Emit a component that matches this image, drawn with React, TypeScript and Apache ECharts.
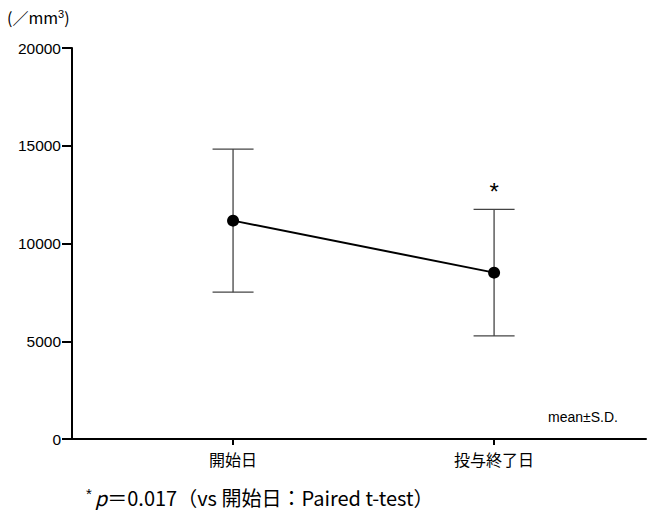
import React, { useEffect, useRef } from "react";
import * as echarts from "echarts";

const categories = ["開始日", "投与終了日"];
const means = [11170, 8510];
const sds = [3660, 3240];
const marks = ["", "*"];
const yTicks = [0, 5000, 10000, 15000, 20000];

export default function App() {
  const ref = useRef<HTMLDivElement>(null);
  useEffect(() => {
    if (!ref.current) return;
    const chart = echarts.init(ref.current, null, { renderer: "svg" });
    const lineData = means.map((m, i) => [i, m]);
    const errData = means.map((m, i) => [i, m - sds[i], m + sds[i]]);
    const font = "'Liberation Sans', Arial, sans-serif";
    const cjk = "'Noto Sans CJK JP', 'Liberation Sans', sans-serif";
    chart.setOption({
      animation: false,
      backgroundColor: "#fff",
      grid: { left: 72, right: 2, top: 48, bottom: 71, containLabel: false },
      xAxis: {
        type: "value",
        min: -0.617,
        max: 1.582,
        splitLine: { show: false },
        axisLine: { show: true, onZero: false, lineStyle: { color: "#000", width: 2 } },
        axisTick: { show: true, customValues: [0, 1], length: 6, lineStyle: { color: "#000", width: 2 } },
        axisLabel: {
          customValues: [0, 1],
          formatter: (v: number) => categories[Math.round(v)] ?? "",
          color: "#000",
          fontFamily: cjk,
          fontSize: 16,
          margin: 12,
        },
      },
      yAxis: {
        type: "value",
        min: yTicks[0],
        max: yTicks[yTicks.length - 1],
        interval: 5000,
        splitLine: { show: false },
        axisLine: { show: true, onZero: false, lineStyle: { color: "#000", width: 2 } },
        axisTick: { show: true, length: 10, lineStyle: { color: "#000", width: 2 } },
        axisLabel: {
          color: "#000",
          fontFamily: font,
          fontSize: 15.5,
          margin: 11,
          formatter: (v: number) => String(v),
        },
      },
      graphic: [
        {
          type: "text",
          left: 7,
          top: 8,
          style: {
            text: "{a|(／mm}{s|3}{a|)}",
            rich: {
              a: { fontFamily: cjk, fontSize: 16, color: "#000", verticalAlign: "bottom" },
              s: { fontFamily: font, fontSize: 11, color: "#000", verticalAlign: "top", padding: [0, 0, 6, 0] },
            },
          },
        },
        {
          type: "text",
          left: 548,
          top: 410,
          style: { text: "mean±S.D.", font: `14px ${font}`, fill: "#000" },
        },
        {
          type: "text",
          left: 86,
          top: 486,
          style: {
            text: "{s|*}{p|p}{a|＝0.017（vs 開始日：Paired t-test）}",
            rich: {
              s: { fontFamily: font, fontSize: 15, color: "#333", verticalAlign: "top", padding: [0, 3, 6, 0] },
              a: { fontFamily: cjk, fontSize: 20, color: "#333", verticalAlign: "bottom" },
              p: { fontFamily: cjk, fontSize: 20, fontStyle: "italic", color: "#333", verticalAlign: "bottom" },
            },
          },
        },
      ],
      series: [
        {
          type: "custom",
          z: 1,
          data: errData,
          encode: { x: 0, y: [1, 2] },
          renderItem: (params: any, api: any) => {
            const x = api.value(0);
            const lo = api.value(1);
            const hi = api.value(2);
            const top = api.coord([x, hi]);
            const bot = api.coord([x, lo]);
            const hw = 20.5;
            const st = { stroke: "#444", lineWidth: 1.3 };
            const children: any[] = [
              { type: "line", shape: { x1: top[0], y1: top[1], x2: bot[0], y2: bot[1] }, style: st },
              { type: "line", shape: { x1: top[0] - hw, y1: top[1], x2: top[0] + hw, y2: top[1] }, style: st },
              { type: "line", shape: { x1: bot[0] - hw, y1: bot[1], x2: bot[0] + hw, y2: bot[1] }, style: st },
            ];
            const m = marks[params.dataIndex];
            if (m) {
              children.push({
                type: "text",
                style: {
                  text: m,
                  x: top[0],
                  y: top[1] - 6,
                  align: "center",
                  verticalAlign: "bottom",
                  font: `24px ${font}`,
                  fill: "#000",
                },
              });
            }
            return { type: "group", children };
          },
        },
        {
          type: "line",
          z: 3,
          data: lineData,
          symbol: "circle",
          symbolSize: 12,
          itemStyle: { color: "#000" },
          lineStyle: { color: "#000", width: 2 },
        },
      ],
    });
    return () => chart.dispose();
  }, []);
  return (
    <div
      ref={ref}
      style={{ position: "fixed", left: 0, top: 0, width: 648, height: 510, background: "#fff" }}
    />
  );
}
